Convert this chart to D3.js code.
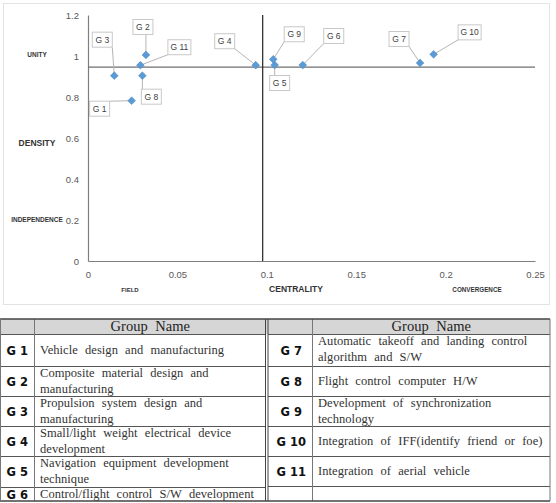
<!DOCTYPE html>
<html>
<head>
<meta charset="utf-8">
<script src="https://cdn.jsdelivr.net/npm/d3@7"></script>
<style>
  body { margin: 0; background: #fff; }
  svg { display: block; }
</style>
</head>
<body>
<div id="chart"></div>
<script>
// data
const groups = ['G 1', 'G 2', 'G 3', 'G 4', 'G 5', 'G 6', 'G 7', 'G 8', 'G 9', 'G 10', 'G 11']
const centrality = [0.0244, 0.0324, 0.0147, 0.0938, 0.1044, 0.1201, 0.1857, 0.0304, 0.1036, 0.1933, 0.0293]
const density = [0.782, 1.005, 0.904, 0.955, 0.956, 0.956, 0.966, 0.904, 0.984, 1.008, 0.955]
const xTicks = [0, 0.05, 0.1, 0.15, 0.2, 0.25]
const yTicks = [0, 0.2, 0.4, 0.6, 0.8, 1, 1.2]
const meanCentrality = 0.0977
const meanDensity = 0.946

const groupNames = [
  ['Vehicle design and manufacturing'],
  ['Composite material design and', 'manufacturing'],
  ['Propulsion system design and', 'manufacturing'],
  ['Small/light weight electrical device', 'development'],
  ['Navigation equipment development', 'technique'],
  ['Control/flight control S/W development'],
  ['Automatic takeoff and landing control', 'algorithm and S/W'],
  ['Flight control computer H/W'],
  ['Development of synchronization', 'technology'],
  ['Integration of IFF(identify friend or foe)'],
  ['Integration of aerial vehicle']
]

// callout box offsets from each point (px)
const labelOffsets = [[-32, 8], [-3, -28], [-12, -36], [-31, -24], [5, 18], [31, -29],
  [-21, -24], [9, 21], [21, -25], [36, -22], [39, -18]]

const W = 556, H = 503
const svg = d3.select('#chart').append('svg').attr('width', W).attr('height', H)

/** chart frame */
svg.append('rect').attr('x', 3.5).attr('y', 3.5).attr('width', 546).attr('height', 301)
  .attr('fill', '#fff').attr('stroke', '#e3e3e3')

const x = d3.scaleLinear().domain([0, 0.25]).range([88, 535])
const y = d3.scaleLinear().domain([0, 1.2]).range([261, 15])

svg.append('g').attr('transform', `translate(0, ${y(0)})`)
  .call(d3.axisBottom(x).tickValues(xTicks).tickSize(0).tickPadding(10).tickFormat(d3.format('~g')))
svg.append('g').attr('transform', `translate(${x(0)}, 0)`)
  .call(d3.axisLeft(y).tickValues(yTicks).tickSize(0).tickPadding(9).tickFormat(d3.format('~g')))
svg.selectAll('.domain').attr('stroke', '#7f7f7f').attr('stroke-width', 1.2)
svg.selectAll('.tick text').attr('font-family', 'Liberation Sans, Arial, sans-serif')
  .attr('font-size', 9.5).attr('fill', '#595959')

/** quadrant dividers */
svg.append('line').attr('x1', x(0)).attr('x2', x(0.25)).attr('y1', y(meanDensity)).attr('y2', y(meanDensity))
  .attr('stroke', '#6f6f6f').attr('stroke-width', 1.2)
svg.append('line').attr('x1', x(meanCentrality)).attr('x2', x(meanCentrality)).attr('y1', y(0)).attr('y2', y(1.2))
  .attr('stroke', '#222').attr('stroke-width', 1.2)

// axis titles
const titles = [
  ['UNITY', 37, 57, 6.5], ['DENSITY', 37, 145.5, 8.5], ['INDEPENDENCE', 37, 221.5, 6.5],
  ['FIELD', 130, 292, 6], ['CENTRALITY', 296, 292, 8.5], ['CONVERGENCE', 477, 292, 6.3]
]
svg.selectAll('text.title').data(titles).join('text').attr('class', 'title')
  .attr('x', d => d[1]).attr('y', d => d[2]).attr('text-anchor', 'middle')
  .attr('font-family', 'Liberation Sans, Arial, sans-serif').attr('font-weight', 'bold')
  .attr('font-size', d => d[3]).attr('fill', '#333').text(d => d[0])

// callouts
const pts = groups.map((g, i) => {
  const px = x(centrality[i]), py = y(density[i])
  const w = g.length > 3 ? 23 : 20, h = 15
  const cx = px + labelOffsets[i][0], cy = py + labelOffsets[i][1]
  // nearest point of the box to the marker
  const ex = Math.max(cx - w / 2, Math.min(px, cx + w / 2))
  const ey = Math.max(cy - h / 2, Math.min(py, cy + h / 2))
  return { g, px, py, w, h, cx, cy, ex, ey }
})
svg.selectAll('line.leader').data(pts).join('line').attr('class', 'leader')
  .attr('x1', d => d.px).attr('y1', d => d.py).attr('x2', d => d.ex).attr('y2', d => d.ey)
  .attr('stroke', '#b5b5b5').attr('stroke-width', 1)
const lab = svg.selectAll('g.lab').data(pts).join('g').attr('class', 'lab')
lab.append('rect').attr('x', d => d.cx - d.w / 2).attr('y', d => d.cy - d.h / 2)
  .attr('width', d => d.w).attr('height', d => d.h)
  .attr('fill', '#fff').attr('stroke', '#c8c8c8')
lab.append('text').attr('x', d => d.cx).attr('y', d => d.cy + 3)
  .attr('text-anchor', 'middle').attr('font-family', 'Liberation Sans, Arial, sans-serif')
  .attr('font-size', 8.5).attr('fill', '#404040').text(d => d.g)

// markers
svg.selectAll('path.pt').data(pts).join('path').attr('class', 'pt')
  .attr('d', d3.symbol(d3.symbolSquare, 30)())
  .attr('transform', d => `translate(${d.px}, ${d.py}) rotate(45)`)
  .attr('fill', '#5b9bd5').attr('stroke', '#4a86c0').attr('stroke-width', 0.5)

/** table */
const t = svg.append('g')
const rowTops = [[334, 366, 396, 426, 456, 487], [334, 366, 396, 426, 456, 486]]
const tTop = 319, tBot = 501
const sections = [{ x0: 0, xs: 34.5, x1: 266 }, { x0: 268, xs: 312.5, x1: 550 }]
t.append('rect').attr('x', 0).attr('y', tTop).attr('width', 550).attr('height', 334 - tTop).attr('fill', '#d6d6d6')

sections.forEach((s, k) => {
  const tops = rowTops[k]
  tops.forEach(r => {
    t.append('line').attr('x1', s.x0).attr('x2', s.x1).attr('y1', r + 0.5).attr('y2', r + 0.5)
      .attr('stroke', '#555').attr('stroke-width', 1)
  })
  t.append('line').attr('x1', s.xs).attr('x2', s.xs).attr('y1', tTop).attr('y2', tBot)
    .attr('stroke', '#777').attr('stroke-width', 1)
  t.append('text').attr('x', (s.xs + s.x1) / 2).attr('y', 330.5)
    .attr('text-anchor', 'middle').attr('font-family', 'Liberation Serif, serif').attr('font-size', 14.5)
    .attr('word-spacing', 4).attr('fill', '#222').text('Group Name')
  const items = groups.slice(k * 6, k * 6 + 6)
  items.forEach((g, j) => {
    const i = k * 6 + j
    const top = tops[j], bot = j < 5 ? tops[j + 1] : tBot
    const mid = (top + bot) / 2
    t.append('text').attr('x', (s.x0 + s.xs) / 2 + (k ? 1 : 0)).attr('y', mid + 4.5)
      .attr('text-anchor', 'middle').attr('font-family', 'DejaVu Sans, sans-serif').attr('font-weight', 'bold')
      .attr('font-size', 11.5).attr('fill', '#111').text(g)
    const lines = groupNames[i]
    lines.forEach((ln, m) => {
      const by = lines.length === 1 ? mid + 4 : top + 10.5 + m * 16
      t.append('text').attr('x', s.xs + 5.5).attr('y', by)
        .attr('font-family', 'Liberation Serif, serif').attr('font-size', 12.5)
        .attr('word-spacing', 4).attr('letter-spacing', 0.05).attr('fill', '#333').text(ln)
    })
  })
})
// outer and double lines
t.append('line').attr('x1', 0).attr('x2', 550).attr('y1', tTop).attr('y2', tTop).attr('stroke', '#444').attr('stroke-width', 1.5)
t.append('line').attr('x1', 0).attr('x2', 550).attr('y1', tBot).attr('y2', tBot).attr('stroke', '#444').attr('stroke-width', 1.5)
t.append('line').attr('x1', 0.5).attr('x2', 0.5).attr('y1', tTop).attr('y2', tBot).attr('stroke', '#777')
t.append('line').attr('x1', 550).attr('x2', 550).attr('y1', tTop).attr('y2', tBot).attr('stroke', '#777')
t.append('line').attr('x1', 265.5).attr('x2', 265.5).attr('y1', tTop).attr('y2', tBot).attr('stroke', '#444')
t.append('line').attr('x1', 268).attr('x2', 268).attr('y1', tTop).attr('y2', tBot).attr('stroke', '#444')
</script>
</body>
</html>
